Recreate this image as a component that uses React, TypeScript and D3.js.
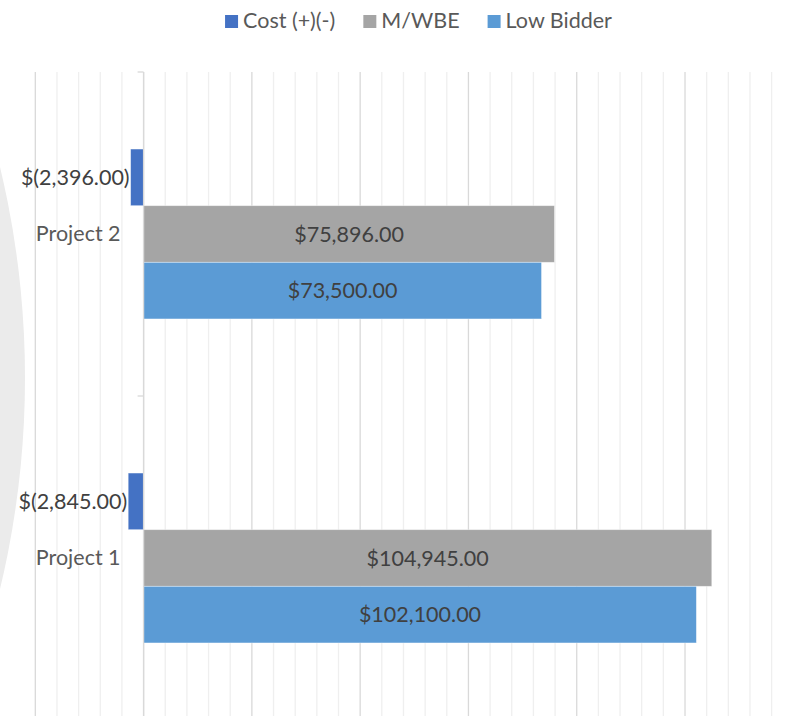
import React, { useEffect, useRef } from 'react';
import * as d3 from 'd3';

const categories = ['Project 2', 'Project 1'];
const seriesNames = ['Cost (+)(-)', 'M/WBE', 'Low Bidder'];
const seriesColors = ['#4472c4', '#a5a5a5', '#5b9bd5'];
const costValues = [-2396, -2845];
const mwbeValues = [75896, 104945];
const lowBidderValues = [73500, 102100];
const axisMin = -20000;
const axisMax = 120000;
const minorStep = 4000;
const majorStep = 20000;

const W = 791;
const H = 716;
const FONT = 'Lato, "Open Sans", sans-serif';
const FS = 21.5;

const fmt = (v: number) => {
  const s = d3.format(',.2f')(Math.abs(v));
  return v < 0 ? '$(' + s + ')' : '$' + s;
};

const App = () => {
  const svgRef = useRef<SVGSVGElement>(null);

  useEffect(() => {
    const svg = d3.select(svgRef.current);
    svg.selectAll('*').remove();

    const plotTop = 72;
    const plotBottom = 720;

    const x = d3.scaleLinear().domain([axisMin, axisMax]).range([35.3, 793.3]);
    const y = d3.scaleBand().domain(categories).range([plotTop, plotBottom]).padding(0);
    const ySeries = d3.scaleBand().domain(seriesNames).range([0, y.bandwidth()])
      .paddingInner(0).paddingOuter(1.36);

    // faint shape on the left edge
    svg.append('circle')
      .attr('cx', 25 - 903).attr('cy', 378).attr('r', 903)
      .attr('fill', '#ebebeb');

    // gridlines
    const gridTicks = d3.range(axisMin, axisMax + 1, minorStep);
    svg.append('g').selectAll('line')
      .data(gridTicks)
      .enter()
      .append('line')
      .attr('x1', d => x(d)).attr('x2', d => x(d))
      .attr('y1', plotTop).attr('y2', H)
      .attr('stroke', d => (d % majorStep === 0 ? '#d9d9d9' : '#efefef'))
      .attr('stroke-width', 1.3);

    // bars
    const series = [costValues, mwbeValues, lowBidderValues];
    series.forEach((vals, si) => {
      const g = svg.append('g');
      g.selectAll('rect')
        .data(vals)
        .enter()
        .append('rect')
        .attr('x', d => x(Math.min(0, d)))
        .attr('width', d => Math.abs(x(d) - x(0)))
        .attr('y', (d, i) => (y(categories[i]) as number) + (ySeries(seriesNames[si]) as number))
        .attr('height', ySeries.bandwidth())
        .attr('fill', seriesColors[si])
        .attr('stroke', '#ffffff')
        .attr('stroke-opacity', 0.5)
        .attr('stroke-width', 0.8);

      g.selectAll('text')
        .data(vals)
        .enter()
        .append('text')
        .attr('x', d => (d < 0 ? x(d) - 1 : (x(0) + x(d)) / 2))
        .attr('y', (d, i) => (y(categories[i]) as number) + (ySeries(seriesNames[si]) as number) + ySeries.bandwidth() / 2)
        .attr('dy', '0.35em')
        .attr('text-anchor', d => (d < 0 ? 'end' : 'middle'))
        .attr('font-family', FONT)
        .attr('font-size', FS)
        .attr('fill', '#404040')
        .text(d => fmt(d));
    });

    // category axis
    const axis = svg.append('g')
      .attr('transform', `translate(${x(0)},0)`)
      .call(d3.axisLeft(y).tickSize(0).tickPadding(23));
    axis.select('.domain').remove();
    axis.selectAll('text')
      .attr('font-family', FONT)
      .attr('font-size', FS)
      .attr('fill', '#595959');

    svg.append('line')
      .attr('x1', x(0)).attr('x2', x(0))
      .attr('y1', plotTop).attr('y2', H)
      .attr('stroke', '#d9d9d9').attr('stroke-width', 1.3);
    svg.append('g').selectAll('line')
      .data([plotTop, ...categories.map(c => (y(c) as number) + y.bandwidth())])
      .enter()
      .append('line')
      .attr('x1', x(0) - 6).attr('x2', x(0))
      .attr('y1', d => d).attr('y2', d => d)
      .attr('stroke', '#d9d9d9').attr('stroke-width', 1.3);

    // legend
    const legend = svg.append('g');
    const items = legend.selectAll('g')
      .data(seriesNames)
      .enter()
      .append('g');
    items.append('rect')
      .attr('width', 13).attr('height', 13)
      .attr('y', 15)
      .attr('fill', (d, i) => seriesColors[i]);
    items.append('text')
      .attr('x', 18).attr('y', 28)
      .attr('font-family', FONT)
      .attr('font-size', FS)
      .attr('fill', '#595959')
      .text(d => d);
    let offset = 0;
    items.each(function () {
      const t = d3.select(this).select('text').node() as SVGTextElement;
      d3.select(this).attr('transform', `translate(${offset},0)`);
      offset += 18 + t.getComputedTextLength() + 28;
    });
    const total = offset - 28;
    legend.attr('transform', `translate(${418.5 - total / 2},0)`);
  }, []);

  return (
    <div style={{ position: 'absolute', left: 0, top: 0 }}>
      <svg ref={svgRef} width={W} height={H} style={{ display: 'block', background: '#fff' }}></svg>
    </div>
  );
};

export default App;
